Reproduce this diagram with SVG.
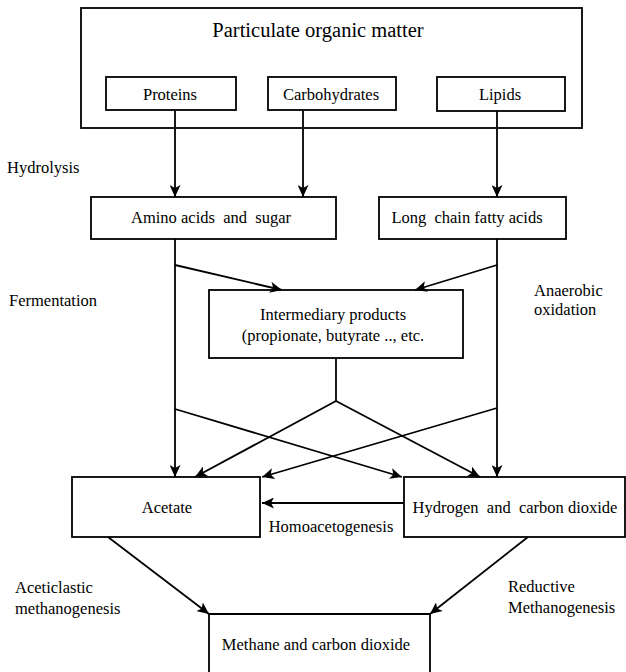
<svg xmlns="http://www.w3.org/2000/svg" width="626" height="672" viewBox="0 0 626 672">
<style>
.box{fill:#fff;stroke:#000;stroke-width:1.8}
.open{fill:none;stroke:#000;stroke-width:1.8}
.t{font-family:"Liberation Serif","Times New Roman",serif;font-size:16.5px;fill:#000;white-space:pre}
.c{text-anchor:middle}
.title{font-size:20.5px}
.ln{fill:none;stroke:#000;stroke-width:1.8}
.ar{marker-end:url(#ah)}
</style>
<defs>
<marker id="ah" markerWidth="13" markerHeight="11" refX="12" refY="5.5" orient="auto" markerUnits="userSpaceOnUse">
<path d="M0,0 L12,5.5 L0,11 L3,5.5 z" fill="#000"/>
</marker>
</defs>
<rect width="626" height="672" fill="#fff"/>
<g id="pom">
<rect class="box" x="81" y="8" width="501" height="120"/>
<text class="t c title" x="318" y="37">Particulate organic matter</text>
</g>
<g id="proteins">
<rect class="box" x="106" y="77" width="130" height="33"/>
<text class="t c" x="170" y="100">Proteins</text>
</g>
<g id="carbohydrates">
<rect class="box" x="268" y="77" width="128" height="33"/>
<text class="t c" x="331" y="100">Carbohydrates</text>
</g>
<g id="lipids">
<rect class="box" x="437" y="77" width="128" height="34"/>
<text class="t c" x="500" y="100">Lipids</text>
</g>
<g id="hydrolysis-label">
<text class="t" x="7" y="173">Hydrolysis</text>
</g>
<g id="amino">
<rect class="box" x="91" y="197" width="245" height="42"/>
<text class="t c" x="211" y="223">Amino acids  and  sugar</text>
</g>
<g id="lcfa">
<rect class="box" x="379" y="197" width="187" height="42"/>
<text class="t c" x="467" y="223">Long  chain fatty acids</text>
</g>
<g id="fermentation-label">
<text class="t" x="9" y="306">Fermentation</text>
</g>
<g id="anaerobic-label">
<text class="t" x="534" y="296">Anaerobic</text>
<text class="t" x="534" y="315">oxidation</text>
</g>
<g id="intermediary">
<rect class="box" x="209" y="290" width="254" height="68"/>
<text class="t c" x="333" y="320">Intermediary products</text>
<text class="t c" x="333" y="341">(propionate, butyrate .., etc.</text>
</g>
<g id="acetate">
<rect class="box" x="72" y="477" width="188" height="60"/>
<text class="t c" x="167" y="513">Acetate</text>
</g>
<g id="hydrogen">
<rect class="box" x="404" y="477" width="221" height="60"/>
<text class="t c" x="515" y="513">Hydrogen  and  carbon dioxide</text>
</g>
<g id="homoacetogenesis-label">
<text class="t c" x="331" y="532">Homoacetogenesis</text>
</g>
<g id="aceticlastic-label">
<text class="t" x="15" y="593">Aceticlastic</text>
<text class="t" x="15" y="614">methanogenesis</text>
</g>
<g id="reductive-label">
<text class="t" x="508" y="592">Reductive</text>
<text class="t" x="508" y="613">Methanogenesis</text>
</g>
<g id="methane">
<path class="open" d="M209,672 V614 H430 V672"/>
<text class="t c" x="316" y="650">Methane and carbon dioxide</text>
</g>
<g id="connectors">
<line class="ln ar" x1="175" y1="110" x2="175" y2="197"/>
<line class="ln ar" x1="303" y1="110" x2="303" y2="197"/>
<line class="ln ar" x1="497" y1="111" x2="497" y2="197"/>
<line class="ln ar" x1="175" y1="239" x2="175" y2="477"/>
<line class="ln ar" x1="175" y1="265" x2="282" y2="290"/>
<line class="ln ar" x1="497" y1="239" x2="497" y2="477"/>
<line class="ln ar" x1="497" y1="265" x2="415" y2="290"/>
<line class="ln" x1="336" y1="358" x2="336" y2="401"/>
<line class="ln ar" x1="336" y1="401" x2="195" y2="477"/>
<line class="ln ar" x1="336" y1="401" x2="480" y2="477"/>
<line class="ln ar" x1="175" y1="409" x2="402" y2="477"/>
<line class="ln ar" x1="497" y1="408" x2="262" y2="477"/>
<line class="ln ar" x1="404" y1="503" x2="262" y2="503"/>
<line class="ln ar" x1="108" y1="537" x2="209" y2="614"/>
<line class="ln ar" x1="528" y1="537" x2="430" y2="614"/>
</g>
</svg>
